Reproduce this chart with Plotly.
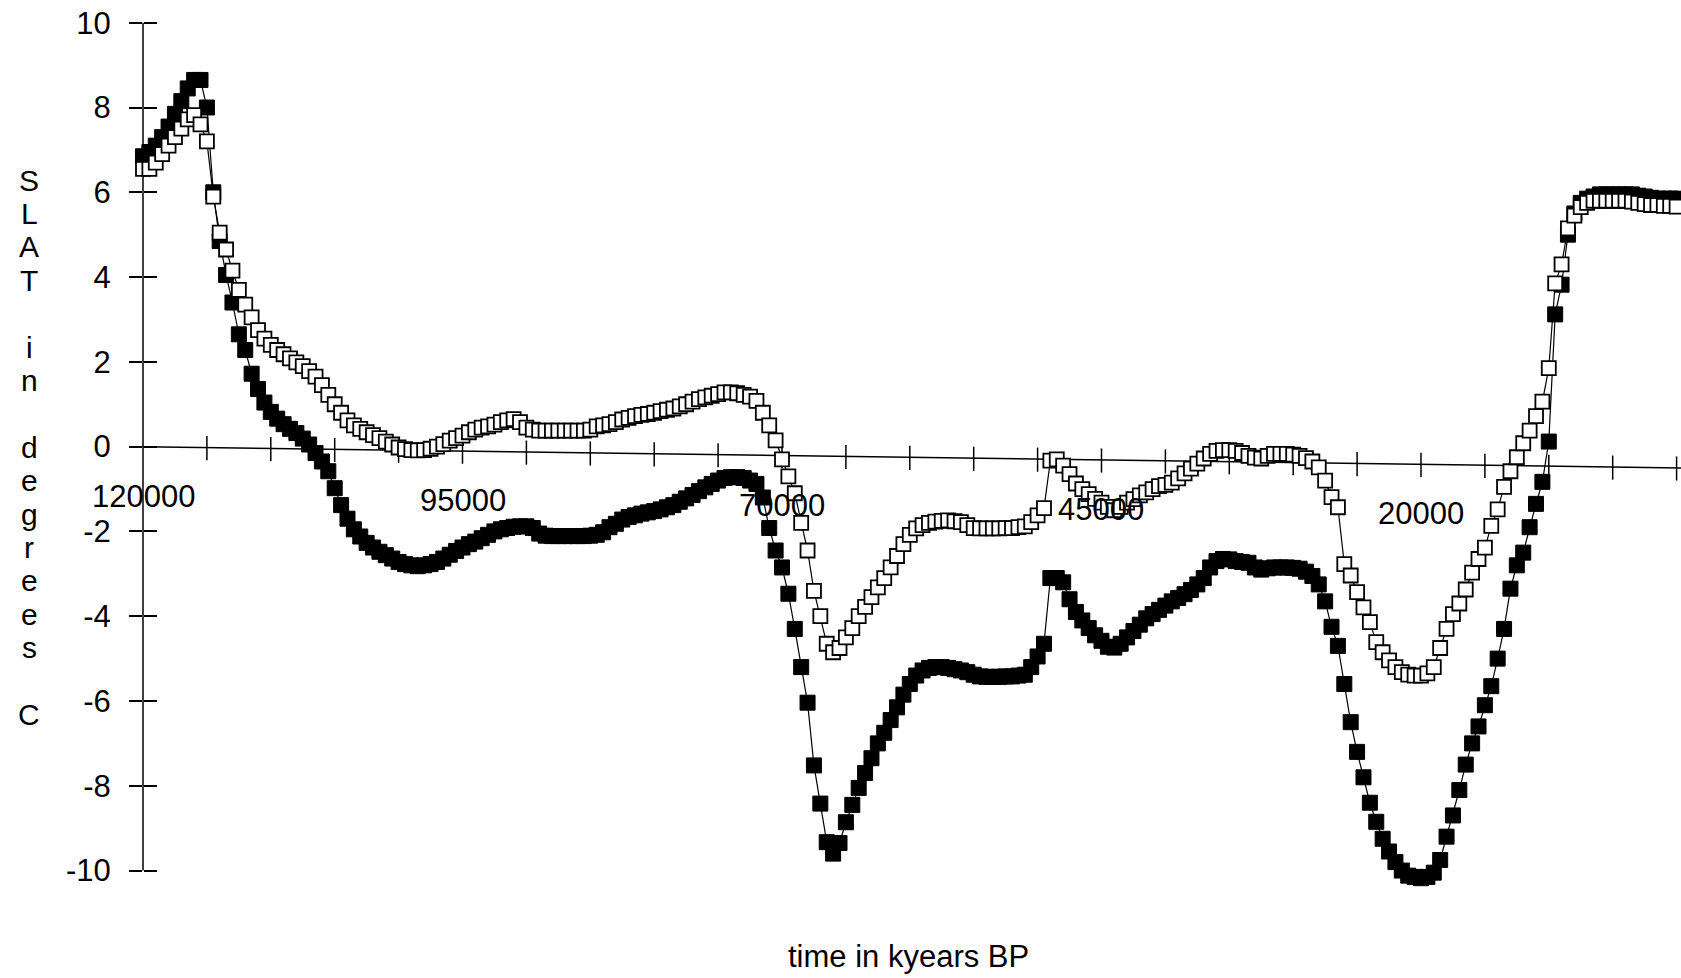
import plotly.graph_objects as go

# Time axis: years before present, one sample every 500 years
years = list(range(120000, -1, -500))

# Surface air temperature anomaly (degrees C), filled-square series
slat_filled = [
    6.85, 6.95, 7.1, 7.3, 7.55, 7.85, 8.15, 8.45, 8.65, 8.65,
    8.0, 6.0, 4.85, 4.05, 3.4, 2.65, 2.28, 1.72, 1.36, 1.04,
    0.82, 0.66, 0.53, 0.42, 0.32, 0.19, 0.05, -0.15, -0.35, -0.58,
    -0.98, -1.38, -1.7, -1.95, -2.12, -2.27, -2.38, -2.48, -2.56, -2.64,
    -2.72, -2.77, -2.8, -2.82, -2.8, -2.77, -2.72, -2.64, -2.55, -2.46,
    -2.38, -2.3, -2.24, -2.16, -2.08, -2.0, -1.95, -1.92, -1.89, -1.88,
    -1.88, -1.92, -2.05, -2.1, -2.11, -2.11, -2.11, -2.11, -2.11, -2.11,
    -2.1, -2.08, -2.02, -1.9, -1.82, -1.72, -1.66, -1.62, -1.58, -1.55,
    -1.52, -1.48, -1.43, -1.38, -1.3, -1.22, -1.14, -1.05, -0.96, -0.88,
    -0.8, -0.74, -0.72, -0.72, -0.74, -0.8, -0.88, -1.2, -1.92, -2.45,
    -2.85, -3.47, -4.3, -5.2, -6.04, -7.52, -8.42, -9.33, -9.6, -9.35,
    -8.86, -8.45, -8.05, -7.7, -7.35, -7.0, -6.75, -6.45, -6.15, -5.85,
    -5.6, -5.4, -5.28, -5.22, -5.2, -5.2, -5.22, -5.25, -5.28, -5.32,
    -5.38, -5.42, -5.43, -5.43, -5.43, -5.42, -5.42, -5.4, -5.38, -5.2,
    -4.95, -4.65, -3.1, -3.1, -3.2, -3.6, -3.9, -4.1, -4.28, -4.45,
    -4.58, -4.72, -4.74, -4.65, -4.5, -4.35, -4.2, -4.05, -3.95, -3.85,
    -3.75, -3.65, -3.57, -3.48, -3.38, -3.25, -3.1, -2.85, -2.7, -2.65,
    -2.66, -2.7, -2.72, -2.74, -2.85, -2.9, -2.87, -2.85, -2.85, -2.85,
    -2.86, -2.88, -2.95, -3.05, -3.25, -3.65, -4.25, -4.7, -5.6, -6.5,
    -7.2, -7.8, -8.4, -8.85, -9.25, -9.55, -9.8, -10.0, -10.12, -10.15,
    -10.18, -10.15, -10.05, -9.75, -9.2, -8.7, -8.1, -7.5, -7.0, -6.6,
    -6.1, -5.65, -5.0, -4.3, -3.35, -2.8, -2.5, -1.9, -1.35, -0.83,
    0.12, 3.12, 3.82, 5.0, 5.5, 5.75, 5.85, 5.9, 5.95, 5.95,
    5.95, 5.95, 5.95, 5.95, 5.92, 5.9, 5.87, 5.85, 5.85, 5.85,
    5.85,
]

# Surface air temperature anomaly (degrees C), open-square series
slat_open = [
    6.55, 6.55, 6.7, 6.9, 7.1, 7.3, 7.5, 7.72, 7.82, 7.6,
    7.2, 5.9, 5.05, 4.65, 4.15, 3.7, 3.35, 3.05, 2.75, 2.55,
    2.4, 2.28, 2.18, 2.08, 1.99, 1.9, 1.78, 1.65, 1.45, 1.22,
    1.0, 0.8, 0.62, 0.5, 0.42, 0.34, 0.27, 0.2, 0.12, 0.05,
    -0.02, -0.06, -0.08, -0.09, -0.08, -0.05, 0.0, 0.06, 0.14, 0.2,
    0.26, 0.34, 0.4, 0.45, 0.48, 0.52, 0.58, 0.62, 0.65, 0.58,
    0.45, 0.4, 0.38, 0.38, 0.38, 0.38, 0.38, 0.38, 0.38, 0.38,
    0.4, 0.48, 0.5, 0.53, 0.58, 0.64, 0.68, 0.72, 0.75, 0.77,
    0.8, 0.84, 0.87, 0.9, 0.95, 1.0, 1.06, 1.12, 1.16, 1.2,
    1.24, 1.28, 1.28, 1.26, 1.22, 1.18, 1.08, 0.8, 0.5, 0.15,
    -0.3, -0.7, -1.1, -1.8, -2.45, -3.4, -4.0, -4.65, -4.85, -4.75,
    -4.5, -4.28, -4.0, -3.78, -3.55, -3.32, -3.1, -2.85, -2.58, -2.3,
    -2.08, -1.93, -1.85, -1.8, -1.77, -1.75, -1.74, -1.76, -1.78, -1.85,
    -1.92, -1.93, -1.93, -1.93, -1.93, -1.92, -1.92, -1.9, -1.88, -1.78,
    -1.62, -1.45, -0.33, -0.3, -0.45, -0.65, -0.87, -1.0, -1.12, -1.23,
    -1.32, -1.42, -1.5, -1.42, -1.32, -1.24, -1.15, -1.08, -1.0, -0.93,
    -0.9, -0.85, -0.75, -0.63, -0.52, -0.4, -0.28, -0.17, -0.1, -0.08,
    -0.08, -0.1, -0.15, -0.22, -0.26, -0.28, -0.22, -0.17, -0.17, -0.17,
    -0.19, -0.22, -0.27, -0.35, -0.49, -0.8, -1.19, -1.43, -2.77, -3.04,
    -3.43, -3.79, -4.14, -4.61, -4.85, -5.04, -5.2, -5.32, -5.38, -5.4,
    -5.4, -5.35, -5.2, -4.75, -4.3, -3.95, -3.7, -3.37, -2.97, -2.65,
    -2.38, -1.87, -1.48, -0.95, -0.58, -0.25, 0.08, 0.38, 0.72, 1.06,
    1.85, 3.85, 4.3, 5.15, 5.45, 5.65, 5.75, 5.8, 5.8, 5.8,
    5.8, 5.8, 5.8, 5.78, 5.75, 5.72, 5.7, 5.7, 5.68, 5.68,
    5.66,
]

y_ticks = [10, 8, 6, 4, 2, 0, -2, -4, -6, -8, -10]
y_tick_labels = ["10", "8", "6", "4", "2", "0", "-2", "-4", "-6", "-8", "-10"]
x_label_years = [120000, 95000, 70000, 45000, 20000]
x_label_text = ["120000", "95000", "70000", "45000", "20000"]
x_tick_years = list(range(115000, -1, -5000))

y_title = "SLAT in degrees C"
x_title = "time in kyears BP"

# Page geometry: the value range is padded so that markers just past
# the -10 / +10 limits are still drawn; the axis line itself stops at +-10.
W, H = 1681, 978
Y_RANGE = [-10.6, 10.3]
ML, MR, MT, MB = 143, 0, 10, 82
X_RANGE = [120000, -345]
FONT = "Liberation Sans, Arial, Helvetica, sans-serif"

# The time baseline is drawn with a slight downward drift toward the present
AXIS_DROP = 0.5


def baseline(t):
    return -AXIS_DROP * (120000 - t) / 120000


def paper_x(px):
    return (px - ML) / (W - ML - MR)


def paper_y(py):
    return (H - MB - py) / (H - MT - MB)


fig = go.Figure()

fig.add_trace(go.Scatter(
    x=years, y=slat_filled, mode="lines+markers",
    line=dict(color="black", width=1.2),
    marker=dict(symbol="square", size=15, color="black",
                line=dict(color="black", width=1)),
    cliponaxis=False, showlegend=False, hoverinfo="x+y",
))
fig.add_trace(go.Scatter(
    x=years, y=slat_open, mode="lines+markers",
    line=dict(color="black", width=1.2),
    marker=dict(symbol="square", size=14, color="white",
                line=dict(color="black", width=1.8)),
    cliponaxis=False, showlegend=False, hoverinfo="x+y",
))
# Empty trace so the overlaid tick axis (right-hand tick halves) is built
fig.add_trace(go.Scatter(x=[], y=[], yaxis="y2", showlegend=False,
                         hoverinfo="skip"))

# Value axis line from -10 to +10
fig.add_shape(type="line", xref="paper", yref="y", x0=0, x1=0,
              y0=y_ticks[-1], y1=y_ticks[0],
              line=dict(color="black", width=1.5), layer="below")

# Time axis line with crossing tick marks
fig.add_shape(type="line", xref="x", yref="y",
              x0=X_RANGE[0], x1=X_RANGE[1],
              y0=baseline(X_RANGE[0]), y1=baseline(X_RANGE[1]),
              line=dict(color="black", width=1.5), layer="below")
for t in x_tick_years:
    b = baseline(t)
    fig.add_shape(type="line", xref="x", yref="y",
                  x0=t, x1=t, y0=b + 0.27, y1=b - 0.3,
                  line=dict(color="black", width=1.5), layer="below")

for t, lab in zip(x_label_years, x_label_text):
    fig.add_annotation(x=t, y=baseline(t) - 1.17, xref="x", yref="y",
                       text=lab, showarrow=False,
                       xanchor="center", yanchor="middle",
                       font=dict(family=FONT, size=31, color="black"))

# Vertical, one-letter-per-line axis title
line = 0
for ch in y_title:
    if ch != " ":
        fig.add_annotation(x=paper_x(29), y=paper_y(180 + 33.4 * line),
                           xref="paper", yref="paper", text=ch,
                           showarrow=False, xanchor="center", yanchor="middle",
                           font=dict(family=FONT, size=30, color="black"))
    line += 1

fig.add_annotation(x=paper_x(908), y=paper_y(956), xref="paper", yref="paper",
                   text=x_title, showarrow=False,
                   xanchor="center", yanchor="middle",
                   font=dict(family=FONT, size=31, color="black"))

tick_style = dict(tickvals=y_ticks, ticklen=13, tickwidth=1.5,
                  tickcolor="black", showgrid=False, zeroline=False)

fig.update_layout(
    width=W, height=H,
    margin=dict(l=ML, r=MR, t=MT, b=MB, pad=0),
    paper_bgcolor="white", plot_bgcolor="white",
    showlegend=False,
    xaxis=dict(range=X_RANGE, visible=False, showgrid=False, zeroline=False),
    yaxis=dict(range=Y_RANGE, ticktext=y_tick_labels, ticks="outside",
               showline=False, ticklabelstandoff=12,
               tickfont=dict(family=FONT, size=31, color="black"),
               **tick_style),
    yaxis2=dict(range=Y_RANGE, overlaying="y", anchor="free", position=0,
                side="right", ticks="outside", showticklabels=False,
                showline=False, **tick_style),
)

fig.write_html("out.html")
